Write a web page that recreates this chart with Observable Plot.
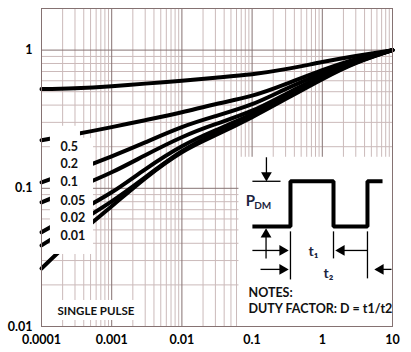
<!DOCTYPE html>
<html><head><meta charset="utf-8">
<script src="https://cdn.jsdelivr.net/npm/d3@7"></script>
<script src="https://cdn.jsdelivr.net/npm/@observablehq/plot@0.6"></script>
<style>html,body{margin:0;padding:0;background:#fff;} svg{display:block}</style>
</head><body><div id="chart"></div>
<script>
// ---- axis ticks ----
const xTicks = [1e-4, 1e-3, 1e-2, 1e-1, 1, 10];
const xTickLabels = ["0.0001", "0.001", "0.01", "0.1", "1", "10"];
const yTicks = [0.01, 0.1, 1];
const yTickLabels = ["0.01", "0.1", "1"];

// ---- curves: pulse time (s) vs normalized thermal impedance ----
const time = [1e-4, 3e-4, 1e-3, 3e-3, 1e-2, 3e-2, 1e-1, 3e-1, 1, 3, 10];
const zD05 = [0.522, 0.530, 0.548, 0.572, 0.601, 0.632, 0.670, 0.728, 0.819, 0.905, 1];
const zD02 = [0.223, 0.246, 0.277, 0.311, 0.355, 0.406, 0.468, 0.567, 0.716, 0.861, 1];
const zD01 = [0.1105, 0.135, 0.1705, 0.215, 0.277, 0.3325, 0.406, 0.522, 0.681, 0.846, 1];
const zD005 = [0.0792, 0.100, 0.1306, 0.1734, 0.234, 0.291, 0.3643, 0.480, 0.648, 0.825, 1];
const zD002 = [0.0480, 0.0659, 0.0936, 0.1373, 0.2015, 0.263, 0.344, 0.460, 0.632, 0.819, 1];
const zD001 = [0.0386, 0.0548, 0.0805, 0.1202, 0.1854, 0.250, 0.335, 0.453, 0.627, 0.812, 1];
const zSingle = [0.0263, 0.0442, 0.0741, 0.1181, 0.1823, 0.242, 0.327, 0.442, 0.616, 0.805, 1];
const seriesNames = ["0.5", "0.2", "0.1", "0.05", "0.02", "0.01", "SINGLE PULSE"];
const seriesValues = [zD05, zD02, zD01, zD005, zD002, zD001, zSingle];

// curve label anchors (left x, y)
const labelX = [1.87e-4, 1.87e-4, 1.87e-4, 1.87e-4, 1.87e-4, 1.87e-4, 1.69e-4];
const labelY = [0.198, 0.149, 0.1105, 0.0805, 0.0606, 0.0449, 0.01284];
const labelSize = [12.5, 12.5, 12.5, 12.5, 12.5, 12.5, 11.5];

// white label / inset panels (data units)
const panelX1 = [1.34e-4, 3.59e-4, 1.58e-4, 0.065];
const panelX2 = [3.59e-4, 5.51e-4, 2.18e-3, 10];
const panelY1 = [0.0332, 0.0332, 0.01105, 0.01];
const panelY2 = [0.281, 0.230, 0.01543, 0.1677];

// inset pulse schematic (data units)
const pulseT = [0.101, 0.352, 0.352, 1.444, 1.444, 4.40, 4.40, 7.21];
const pulseZ = [0.053, 0.053, 0.1124, 0.1124, 0.053, 0.053, 0.1124, 0.1124];
const thinX1 = [0.101, 0.160, 0.158, 0.101, 4.40, 0.1318, 9.68, 0.352, 1.444, 4.40];
const thinX2 = [0.254, 0.160, 0.158, 0.271, 1.877, 0.271, 6.75, 0.352, 1.444, 4.40];
const thinY1 = [0.1124, 0.1677, 0.0311, 0.0355, 0.0355, 0.0259, 0.0259, 0.0488, 0.0488, 0.0488];
const thinY2 = [0.1124, 0.1242, 0.0464, 0.0355, 0.0355, 0.0259, 0.0259, 0.0219, 0.0311, 0.0223];
const headX = [0.271, 0.271, 1.877, 6.75, 0.160, 0.158];
const headY = [0.0355, 0.0259, 0.0355, 0.0259, 0.1242, 0.0464];
const headAngle = [90, 90, -90, -90, 180, 0];
const noteText = ["NOTES:", "DUTY FACTOR: D = t1/t2"];
const noteX = [0.0889, 0.0889];
const noteY = [0.01734, 0.01328];
const symText = ["P", "DM", "t\u2081", "t\u2082"];
const symX = [0.0948, 0.142, 0.749, 1.225];
const symY = [0.0805, 0.0753, 0.0350, 0.0242];
const symSize = [15, 10, 14, 14];
const symAnchor = ["start", "start", "middle", "middle"];

// ---- tables ----
const rows = seriesNames.flatMap((d, k) => time.map((t, i) => ({t, z: seriesValues[k][i], d})));
const labels = seriesNames.map((d, i) => ({d, x: labelX[i], y: labelY[i], f: labelSize[i]}));
const panels = panelX1.map((x1, i) => ({x1, x2: panelX2[i], y1: panelY1[i], y2: panelY2[i]}));
const pulse = pulseT.map((t, i) => ({t, z: pulseZ[i]}));
const thin = thinX1.map((x1, i) => ({x1, x2: thinX2[i], y1: thinY1[i], y2: thinY2[i]}));
const heads = headX.map((x, i) => ({x, y: headY[i], a: headAngle[i]}));
const notes = noteText.map((s, i) => ({s, x: noteX[i], y: noteY[i]}));
const syms = symText.map((s, i) => ({s, x: symX[i], y: symY[i], f: symSize[i], a: symAnchor[i]}));

const minorX = [];
for (let e = -4; e < 1; e++) for (let m = 2; m <= 9; m++) minorX.push(m * Math.pow(10, e));
const minorY = [];
for (let e = -2; e < 0; e++) for (let m = 2; m <= 9; m++) minorY.push(m * Math.pow(10, e));
const majorX = xTicks;
const majorY = yTicks;

const font = "Lato, 'Open Sans', sans-serif";
const minorColor = "#cbbaba";
const majorColor = "#857272";

const chart = Plot.plot({
  width: 411, height: 352,
  marginLeft: 41, marginRight: 19, marginTop: 8, marginBottom: 26,
  x: {type: "log", domain: [1e-4, 10]},
  y: {type: "log", domain: [0.01, 2]},
  style: {fontFamily: font, fontSize: "12px", fontWeight: "bold", color: "#000", background: "#fff"},
  marks: [
    Plot.ruleX(minorX, {stroke: minorColor, strokeWidth: 1}),
    Plot.ruleY(minorY, {stroke: minorColor, strokeWidth: 1}),
    Plot.ruleX(majorX, {stroke: majorColor, strokeWidth: 1}),
    Plot.ruleY(majorY, {stroke: majorColor, strokeWidth: 1}),
    Plot.line(rows, {x: "t", y: "z", z: "d", stroke: "#000", strokeWidth: 4, curve: "natural"}),
    Plot.rect(panels, {x1: "x1", x2: "x2", y1: "y1", y2: "y2", fill: "#fff"}),
    Plot.frame({stroke: majorColor, strokeWidth: 1}),
    Plot.text(labels, {x: "x", y: "y", text: "d", textAnchor: "start", fontSize: "f", fontWeight: "bold", fill: "#111"}),
    Plot.line(pulse, {x: "t", y: "z", stroke: "#000", strokeWidth: 4, strokeLinejoin: "miter", strokeLinecap: "butt"}),
    Plot.link(thin, {x1: "x1", x2: "x2", y1: "y1", y2: "y2", stroke: "#000", strokeWidth: 1.3}),
    Plot.dot(heads, {x: "x", y: "y", rotate: "a", symbol: "triangle", r: 4, fill: "#000", stroke: null}),
    Plot.text(notes, {x: "x", y: "y", text: "s", textAnchor: "start", fontSize: 12.5, fontWeight: "bold", fill: "#111"}),
    Plot.text(syms, {x: "x", y: "y", text: "s", textAnchor: "a", fontSize: "f", fontWeight: "bold", fill: "#1c2440"}),
    Plot.axisX(xTicks, {tickSize: 0, tickPadding: 9, label: null, tickFormat: d => xTickLabels[xTicks.indexOf(d)], fontSize: 12.5, fontWeight: "bold", fill: "#000"}),
    Plot.axisY(yTicks, {tickSize: 0, tickPadding: 9, label: null, tickFormat: d => yTickLabels[yTicks.indexOf(d)], fontSize: 12.5, fontWeight: "bold", fill: "#000"})
  ]
});
document.getElementById("chart").appendChild(chart);
</script>
</body></html>
